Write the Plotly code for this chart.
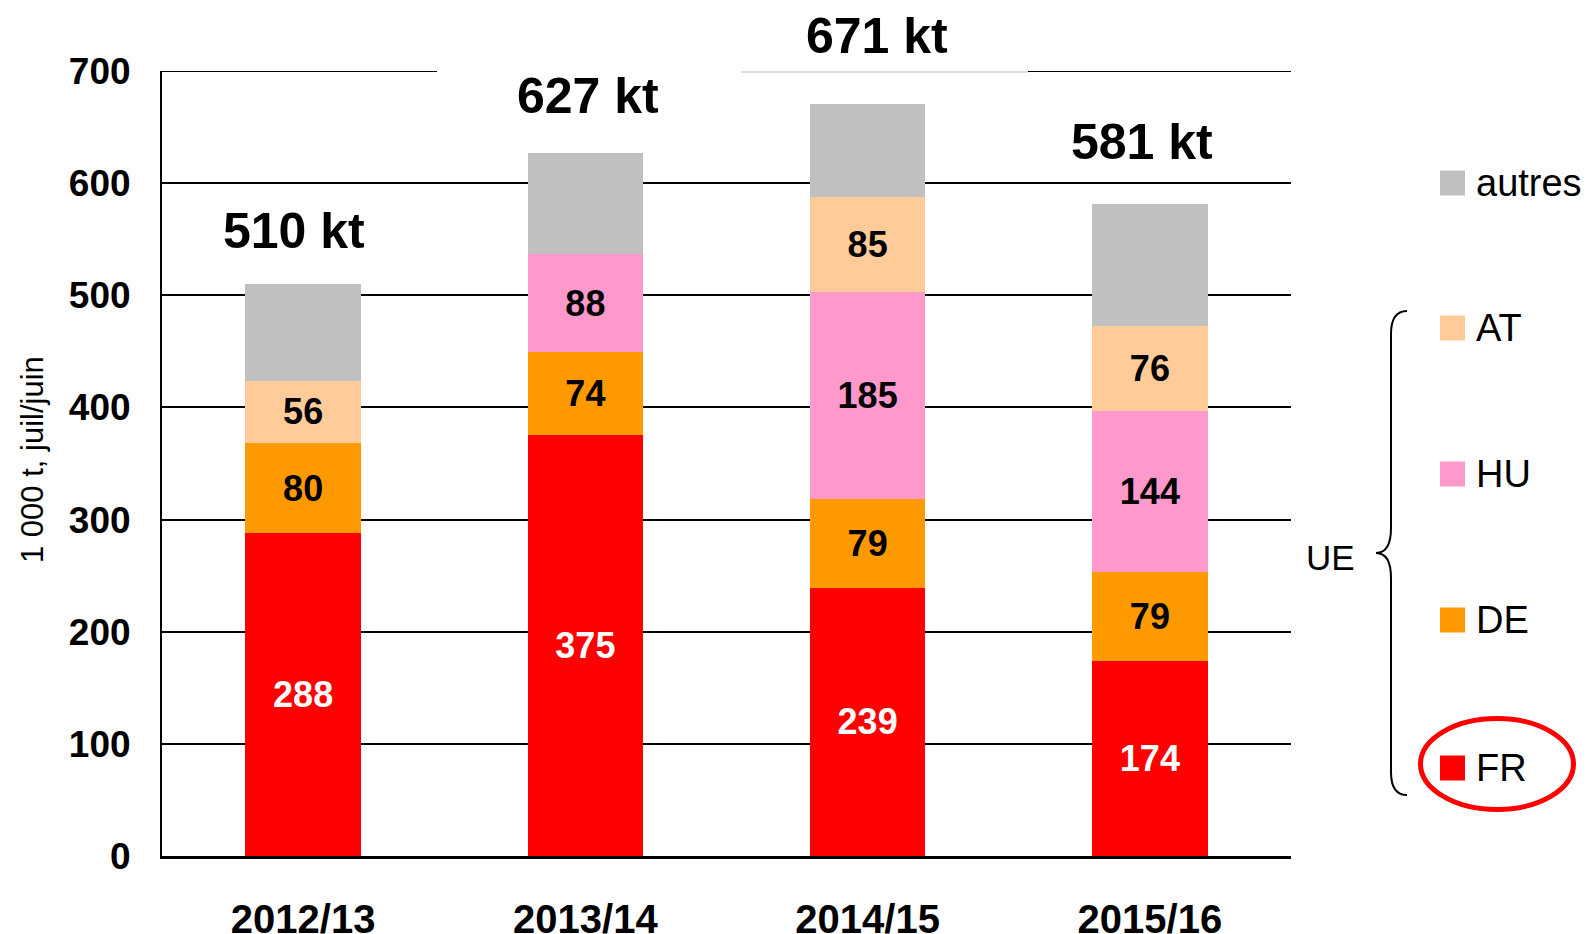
import plotly.graph_objects as go

categories = ["2012/13", "2013/14", "2014/15", "2015/16"]
fr = [288, 375, 239, 174]
de = [80, 74, 79, 79]
hu = [None, 88, 185, 144]
at = [56, None, 85, 76]
autres = [86, 90, 83, 108]
totals = [510, 627, 671, 581]
total_labels = ["510 kt", "627 kt", "671 kt", "581 kt"]
y_ticks = [0, 100, 200, 300, 400, 500, 600, 700]
y_title = "1 000 t, juil/juin"

series = [
    ("FR", fr, "#FF0000", "white"),
    ("DE", de, "#FF9900", "black"),
    ("HU", hu, "#FF99CC", "black"),
    ("AT", at, "#FFCC99", "black"),
    ("autres", autres, "#C0C0C0", "black"),
]

FONT = "Arial, Liberation Sans, sans-serif"
W, H = 1588, 934
L, R, T, B = 162, 297, 71, 78
PW, PH = W - L - R, H - T - B


def px(x):
    return (x - L) / PW


def py(y):
    return (H - B - y) / PH


fig = go.Figure()
for name, vals, color, tcolor in series:
    texts = ["" if (v is None or name == "autres") else str(v) for v in vals]
    fig.add_trace(go.Bar(
        name=name, x=categories, y=vals, marker=dict(color=color, line=dict(width=0)),
        text=texts, textposition="inside", insidetextanchor="middle",
        textangle=0, constraintext="none",
        textfont=dict(family=FONT, size=36, color=tcolor, weight="bold"),
        showlegend=False, hoverinfo="skip",
    ))

# total labels
yshifts = [53, 57, 68, 62]
xshifts = [-9, 3, 9, -8]
for c, t, lab, ys, xs in zip(categories, totals, total_labels, yshifts, xshifts):
    fig.add_annotation(x=c, y=t, text=lab, showarrow=False, yanchor="middle",
                       yshift=ys, xshift=xs,
                       font=dict(family=FONT, size=50, color="black", weight="bold"))

shapes = []
# top gridline (700)
shapes.append(dict(type="line", xref="paper", yref="y", x0=0, x1=1, y0=700, y1=700,
                   line=dict(color="black", width=2), layer="above"))
# white gap in the 700 gridline behind the labels
shapes.append(dict(type="rect", xref="paper", yref="paper",
                   x0=px(437), x1=px(1028), y0=py(76), y1=py(66),
                   fillcolor="white", line=dict(width=0), layer="above"))
shapes.append(dict(type="line", xref="paper", yref="paper",
                   x0=px(741), x1=px(1028), y0=py(72), y1=py(72),
                   line=dict(color="#d3d3d3", width=1.5), layer="above"))

# custom legend
legend_items = [("autres", "#C0C0C0", 183), ("AT", "#FFCC99", 328),
                ("HU", "#FF99CC", 474), ("DE", "#FF9900", 620), ("FR", "#FF0000", 768)]
for name, color, yc in legend_items:
    shapes.append(dict(type="rect", xref="paper", yref="paper",
                       x0=px(1440), x1=px(1465), y0=py(yc + 12.5), y1=py(yc - 12.5),
                       fillcolor=color, line=dict(width=0)))
    fig.add_annotation(xref="paper", yref="paper", x=px(1474), y=py(yc), text=name,
                       showarrow=False, xanchor="left", yanchor="middle",
                       font=dict(family=FONT, size=38, color="black"))

# brace
pts = [(1407, 311), (1391, 311), (1391, 334), (1391, 528), (1391, 553), (1376, 553),
       (1391, 553), (1391, 578), (1391, 772), (1391, 795), (1407, 795)]
P = [f"{px(x):.5f},{py(y):.5f}" for x, y in pts]
path = (f"M {P[0]} Q {P[1]} {P[2]} L {P[3]} Q {P[4]} {P[5]} "
        f"Q {P[6]} {P[7]} L {P[8]} Q {P[9]} {P[10]}")
shapes.append(dict(type="path", xref="paper", yref="paper", path=path,
                   line=dict(color="black", width=2)))
fig.add_annotation(xref="paper", yref="paper", x=px(1330), y=py(557), text="UE",
                   showarrow=False, xanchor="center", yanchor="middle",
                   font=dict(family=FONT, size=35, color="black"))

# red ellipse around FR
shapes.append(dict(type="circle", xref="paper", yref="paper",
                   x0=px(1420.5), x1=px(1573.5), y0=py(809.5), y1=py(718.5),
                   line=dict(color="#FF0000", width=5)))

# y-axis title
fig.add_annotation(xref="paper", yref="paper", x=px(32), y=py(460), text=y_title,
                   textangle=-90, showarrow=False, xanchor="center", yanchor="middle",
                   font=dict(family=FONT, size=31, color="black"))

fig.update_layout(
    barmode="stack", bargap=0.59,
    width=W, height=H,
    margin=dict(l=L, r=R, t=T, b=B, autoexpand=False),
    plot_bgcolor="white", paper_bgcolor="white",
    shapes=shapes,
    font=dict(family=FONT, color="black"),
    xaxis=dict(showline=True, linecolor="black", linewidth=3, showgrid=False,
               ticks="", ticklabelstandoff=26,
               tickfont=dict(family=FONT, size=40, color="black", weight="bold")),
    yaxis=dict(range=[0, 700], tickvals=y_ticks, showgrid=True, gridcolor="black",
               gridwidth=2, showline=True, linecolor="black", linewidth=2,
               zeroline=False, ticks="", ticklabelstandoff=22,
               tickfont=dict(family=FONT, size=37, color="black", weight="bold")),
)

fig.write_html("out.html", config={"displayModeBar": False},
               post_script="document.body.style.margin='0';")
